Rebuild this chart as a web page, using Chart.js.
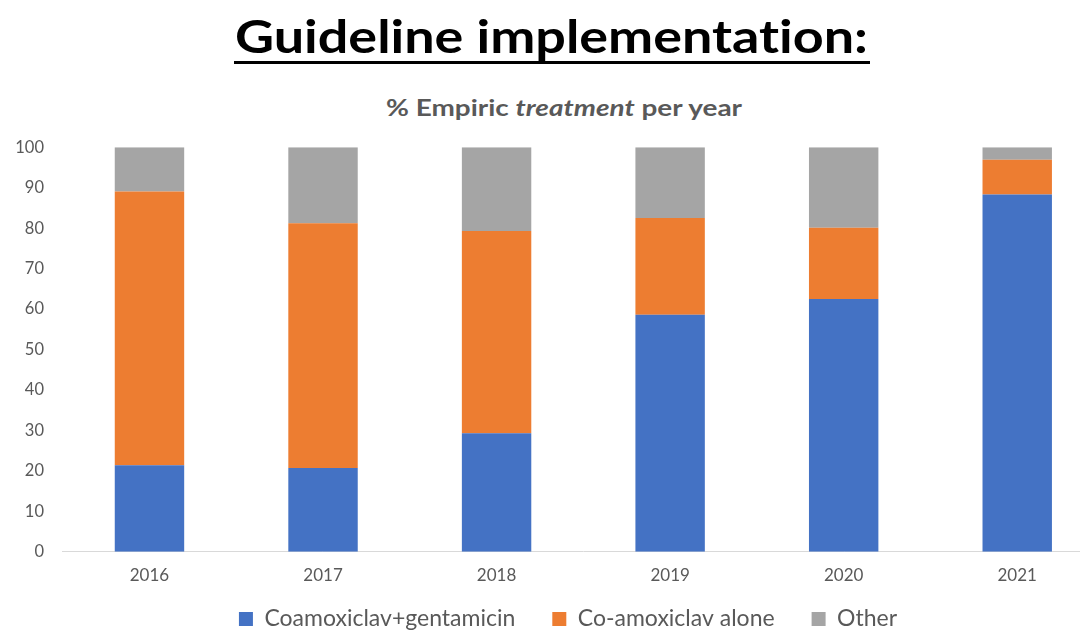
<!DOCTYPE html>
<html>
<head>
<meta charset="utf-8">
<script src="https://cdn.jsdelivr.net/npm/chart.js@4.4.1/dist/chart.umd.min.js"></script>
<style>
  html, body { margin: 0; padding: 0; background: #fff; overflow: hidden; width: 1080px; height: 641px; }
  #wrap { position: relative; width: 1080px; height: 641px; overflow: hidden; }
  #title { position: absolute; left: 235px; top: 13px; font-family: Lato, "Open Sans", sans-serif; font-weight: 700;
           font-size: 46px; line-height: 46px; color: #000; white-space: nowrap; transform-origin: 0 0;
           font-variant-ligatures: none; font-feature-settings: "liga" 0, "clig" 0; }
  #uline { position: absolute; left: 234px; top: 61px; width: 636px; height: 3px; background: #000; }
  #sub { position: absolute; left: 386px; top: 96px; font-family: Lato, "Open Sans", sans-serif; font-weight: 700;
         font-size: 23.5px; line-height: 23.5px; color: #595959; white-space: nowrap; transform-origin: 0 0;
         font-variant-ligatures: none; }
  #sub i { font-style: italic; }
  #c { position: absolute; left: 0; top: 0; }
</style>
</head>
<body>
<div id="wrap">
  <div id="title">Guideline implementation:</div>
  <div id="uline"></div>
  <div id="sub">% Empiric <i>treatment</i> per year</div>
  <canvas id="c" width="1110" height="641" style="width:1110px;height:641px"></canvas>
</div>
<script>
const years = ['2016', '2017', '2018', '2019', '2020', '2021'];
const coamoxGent = [21.4, 20.7, 29.3, 58.6, 62.5, 88.3];
const coamoxAlone = [67.7, 60.5, 50.0, 23.9, 17.6, 8.6];
const other = [10.9, 18.8, 20.7, 17.5, 19.9, 3.1];
const seriesNames = ['Coamoxiclav+gentamicin', 'Co-amoxiclav alone', 'Other'];

function fitWidth(id, target) {
  const el = document.getElementById(id);
  el.style.transform = 'none';
  const w = el.getBoundingClientRect().width;
  el.style.transform = 'scaleX(' + (target / w) + ')';
}
fitWidth('title', 633);
fitWidth('sub', 356);
if (document.fonts && document.fonts.ready) {
  document.fonts.ready.then(() => { fitWidth('title', 633); fitWidth('sub', 356); });
}

const textColor = '#595959';
const legendFont = 23;
const legendPad = 37;

// place the legend row where the reference shows it
const legendNudge = {
  id: 'legendNudge',
  afterLayout(chart) {
    const lg = chart.legend;
    if (!lg) return;
    const dx = 16;
    lg.left += dx; lg.right += dx;
    const h = lg.bottom - lg.top;
    const top = 619 - (legendPad + legendFont / 2);
    lg.top = top; lg.bottom = top + h;
  }
};

new Chart(document.getElementById('c'), {
  type: 'bar',
  data: {
    labels: years,
    datasets: [
      { label: seriesNames[0], data: coamoxGent, backgroundColor: '#4472C4' },
      { label: seriesNames[1], data: coamoxAlone, backgroundColor: '#ED7D31' },
      { label: seriesNames[2], data: other, backgroundColor: '#A5A5A5' }
    ]
  },
  plugins: [legendNudge],
  options: {
    responsive: false,
    animation: false,
    layout: { padding: { left: 0, right: 6, top: 147.3, bottom: -20.7 } },
    datasets: { bar: { categoryPercentage: 1.0, barPercentage: 0.4 } },
    scales: {
      x: {
        stacked: true,
        grid: { display: false, drawTicks: false },
        border: { display: true, color: '#D9D9D9', width: 1 },
        ticks: { color: textColor, font: { family: 'Lato', size: 17 }, padding: 14 },
        afterFit: (s) => { s.height = 40; }
      },
      y: {
        stacked: true,
        min: 0, max: 100,
        grid: { display: false, drawTicks: false },
        border: { display: false },
        ticks: { stepSize: 10, color: textColor, font: { family: 'Lato', size: 16.5 }, padding: 18.7 },
        afterFit: (s) => { s.width = 62.7; }
      }
    },
    plugins: {
      title: { display: false },
      tooltip: { enabled: false },
      legend: {
        position: 'bottom',
        labels: {
          color: textColor,
          font: { family: 'Lato', size: legendFont },
          boxWidth: 14, boxHeight: 14,
          padding: legendPad
        }
      }
    }
  }
});
</script>
</body>
</html>
